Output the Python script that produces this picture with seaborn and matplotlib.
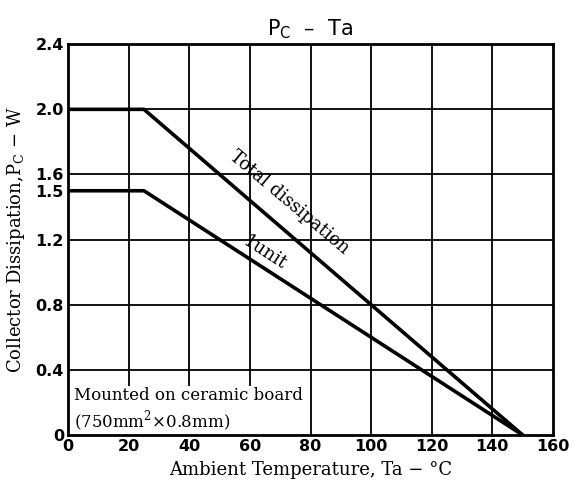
import numpy as np
import pandas as pd
import matplotlib
matplotlib.use("Agg")
import matplotlib.pyplot as plt
import seaborn as sns

# derating curves
temp_total = [0, 25, 150]
pc_total = [2.0, 2.0, 0.0]
temp_unit = [0, 25, 150]
pc_unit = [1.5, 1.5, 0.0]

x_ticks = [0, 20, 40, 60, 80, 100, 120, 140, 160]
y_ticks = [0, 0.4, 0.8, 1.2, 1.5, 1.6, 2.0, 2.4]
y_tick_labels = ["0", "0.4", "0.8", "1.2", "1.5", "1.6", "2.0", "2.4"]
y_grid = [0.4, 0.8, 1.2, 1.6, 2.0]

df = pd.DataFrame({
    "Ta": temp_total + temp_unit,
    "Pc": pc_total + pc_unit,
    "curve": ["Total dissipation"] * len(temp_total) + ["1unit"] * len(temp_unit),
})

sns.set_style("white")
plt.rcParams["font.family"] = ["DejaVu Sans"]
plt.rcParams["text.color"] = "black"
plt.rcParams["axes.labelcolor"] = "black"
plt.rcParams["xtick.color"] = "black"
plt.rcParams["ytick.color"] = "black"

fig = plt.figure(figsize=(5.73, 4.91), dpi=100)
ax = fig.add_axes([0.119, 0.114, 0.846, 0.796])

# grid drawn by hand so 1.5 gets a label but no line
for gx in x_ticks[1:-1]:
    ax.axvline(gx, color="black", lw=1.3, zorder=1)
for gy in y_grid:
    ax.axhline(gy, color="black", lw=1.3, zorder=1)

sns.lineplot(data=df, x="Ta", y="Pc", units="curve", estimator=None,
             color="black", lw=2.6, ax=ax, zorder=3, legend=False)

ax.set_xlim(0, 160)
ax.set_ylim(0, 2.4)
ax.set_xticks(x_ticks)
ax.set_yticks(y_ticks)
ax.set_yticklabels(y_tick_labels)
ax.tick_params(length=0, labelsize=11.5, pad=3)
for lab in ax.get_xticklabels() + ax.get_yticklabels():
    lab.set_fontweight("bold")

for s in ax.spines.values():
    s.set_color("black")
    s.set_linewidth(2)

serif = ["DejaVu Serif"]
ax.set_xlabel("Ambient Temperature, Ta − °C", family=serif, fontsize=13, labelpad=5)
ax.set_ylabel("Collector Dissipation,P$_\\mathregular{C}$ − W", family=serif, fontsize=13, labelpad=6)
ax.set_title("P$_\\mathregular{C}$  –  Ta", fontsize=15, pad=6, color="black")

ax.text(73, 1.43, "Total dissipation", family=serif, fontsize=13,
        rotation=-40, ha="center", va="center", zorder=4)
ax.text(65, 1.12, "1unit", family=serif, fontsize=13,
        rotation=-33, ha="center", va="center", zorder=4)

ax.text(2, 0.015, "Mounted on ceramic board\n(750mm$^\\mathregular{2}$×0.8mm)",
        family=serif, fontsize=12, ha="left", va="bottom", linespacing=1.2,
        bbox=dict(facecolor="white", edgecolor="none", pad=2), zorder=2)

fig.savefig("out.png", dpi=100)
